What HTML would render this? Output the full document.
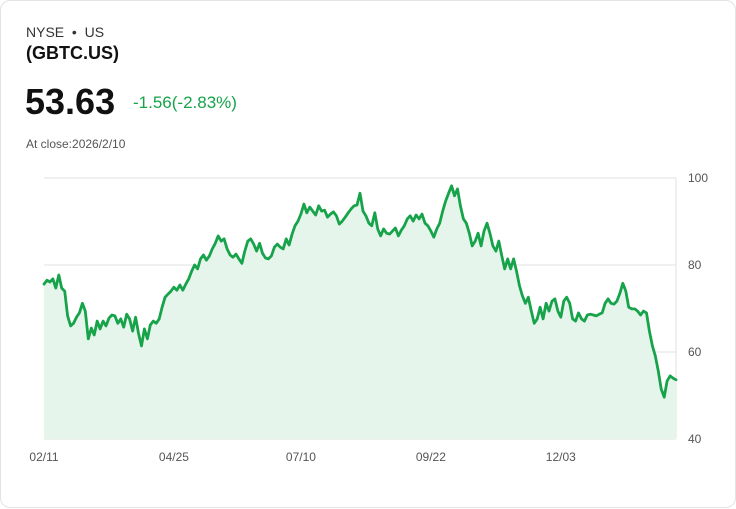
<!DOCTYPE html>
<html><head><meta charset="utf-8"><style>
body{margin:0;background:#fff;font-family:"Liberation Sans",sans-serif;}
#card{position:absolute;left:0;top:0;width:734px;height:506px;border:1px solid #e3e3e3;border-radius:10px;background:#fff;}
.t{position:absolute;white-space:nowrap;}
</style></head><body>
<div id="card">
<div class="t" style="left:25px;top:23px;font-size:14px;color:#333">NYSE &nbsp;•&nbsp; US</div>
<div class="t" style="left:25px;top:42px;font-size:18px;font-weight:bold;color:#111">(GBTC.US)</div>
<div class="t" style="left:24px;top:80px;font-size:36px;font-weight:bold;color:#111">53.63</div>
<div class="t" style="left:132px;top:92px;font-size:17px;color:#16a34a">-1.56(-2.83%)</div>
<div class="t" style="left:25px;top:136px;font-size:12px;color:#555">At close:2026/2/10</div>
<svg id="chart" width="736" height="508" style="position:absolute;left:0;top:0"></svg>
</div>
<script>
const prices=[75.6,76.5,76.1,76.8,74.7,77.7,74.7,74.0,68.3,66.0,66.6,68.0,69.0,71.2,69.4,63.0,65.5,63.9,67.1,65.3,67.1,66.0,67.8,68.5,68.3,66.6,67.6,65.7,68.7,67.6,64.8,68.0,64.3,61.4,65.3,63.0,66.2,67.1,66.6,67.6,70.3,72.6,73.3,74.0,74.9,74.2,75.4,74.2,75.6,76.8,78.6,80.0,79.1,81.4,82.3,81.1,82.1,83.7,85.0,86.7,85.5,86.0,83.7,82.3,81.8,82.5,81.4,80.4,83.2,85.5,86.0,84.8,83.2,85.0,82.7,81.6,81.4,82.1,84.1,84.8,84.1,83.7,86.0,84.6,87.1,89.0,90.1,91.7,94.0,92.0,93.3,92.4,91.5,93.6,92.4,92.6,91.0,91.7,92.2,91.3,89.4,90.1,91.0,92.0,92.9,93.6,93.8,96.5,92.4,91.3,89.6,89.0,92.0,88.3,86.7,88.3,87.3,87.1,87.8,88.5,86.7,88.0,89.0,90.6,91.3,90.1,91.5,90.6,91.7,89.6,89.0,87.8,86.4,88.3,89.6,92.4,94.7,96.5,98.2,95.9,97.5,93.6,90.6,89.6,87.3,84.4,85.5,87.3,84.4,87.8,89.6,87.3,84.4,83.2,85.5,82.1,79.1,81.4,79.1,81.4,78.6,75.2,72.9,71.2,72.6,69.4,66.6,67.6,70.3,67.6,71.2,69.4,71.7,72.2,69.4,68.0,71.7,72.6,71.2,67.6,67.1,69.0,67.6,67.1,68.5,68.7,68.5,68.3,68.7,69.0,71.2,72.2,71.2,71.0,71.7,73.5,75.8,74.0,70.3,69.9,69.9,69.4,68.5,69.4,69.0,64.8,61.4,59.1,55.6,51.5,49.6,53.3,54.5,54.0,53.6];
const yTicks=[40,60,80,100];
const xLabels=["02/11","04/25","07/10","09/22","12/03"];
const xLabelIdx=[0,44,87,131,175];
const NS="http://www.w3.org/2000/svg";
const svg=document.getElementById('chart');
const X0=43,X1=675,YT=177,YB=438,VMIN=40,VMAX=100;
const xs=i=>X0+(X1-X0)*i/(prices.length-1);
const ys=v=>YB-(v-VMIN)/(VMAX-VMIN)*(YB-YT);
function mk(tag,attrs){const e=document.createElementNS(NS,tag);for(const k in attrs)e.setAttribute(k,attrs[k]);svg.appendChild(e);return e;}
yTicks.forEach(t=>{
 const l=mk('line',{x1:X0,x2:X1,y1:ys(t),y2:ys(t),stroke:'#e2e2e2','stroke-width':1});
 
 
 const tx=mk('text',{x:687,y:ys(t)+4,'font-size':12,fill:'#555','font-family':'Liberation Sans, sans-serif'});
 tx.textContent=t;
 
 
});
const ax=mk('line',{x1:X1,x2:X1,y1:YT,y2:YB,stroke:'#e2e2e2','stroke-width':1});


let d=prices.map((v,i)=>(i?'L':'M')+xs(i).toFixed(1)+' '+ys(v).toFixed(1)).join(' ');
const area=mk('path',{d:d+` L${X1} ${YB} L${X0} ${YB} Z`,fill:'#e6f5ec'});


const line=mk('path',{d:d,fill:'none',stroke:'#17a34a','stroke-width':2.8,'stroke-linejoin':'round','stroke-linecap':'round'});


xLabels.forEach((lab,k)=>{
 const tx=mk('text',{x:xs(xLabelIdx[k]),y:460,'font-size':12,fill:'#555','text-anchor':'middle','font-family':'Liberation Sans, sans-serif'});
 tx.textContent=lab;
 
 
});
</script>
</body></html>
